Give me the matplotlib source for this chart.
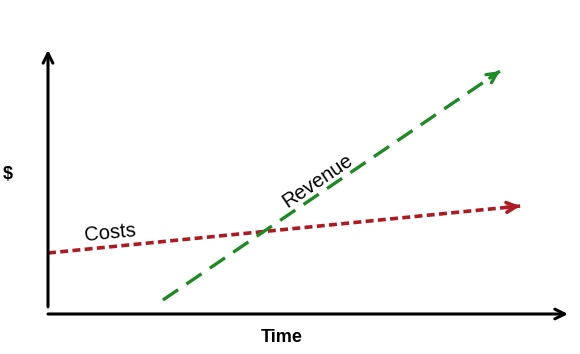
import matplotlib
matplotlib.use("Agg")
import matplotlib.pyplot as plt

plt.rcParams['font.family'] = ['Liberation Sans', 'DejaVu Sans']

# Data (arbitrary units on the Time / $ axes)
cost_time = [0.0, 9.08]
cost_values = [2.31, 4.09]
revenue_time = [2.21, 8.69]
revenue_values = [0.53, 9.2]
x_label = "Time"
y_label = "$"
cost_label = "Costs"
revenue_label = "Revenue"

W, H = 580, 354
fig = plt.figure(figsize=(W / 100, H / 100), dpi=100)
ax = fig.add_axes([48 / W, (H - 314) / H, 520 / W, 264 / H])
ax.set_xlim(0, 10)
ax.set_ylim(0, 10)
ax.axis('off')

red = '#ac1a22'
green = '#1e8a24'

# axes arrows
ax.annotate('', xy=(10, 0), xytext=(0, 0),
            arrowprops=dict(arrowstyle='->,head_length=0.7,head_width=0.35',
                            color='black', lw=2.2, shrinkA=0, shrinkB=0),
            annotation_clip=False)
ax.annotate('', xy=(0, 10), xytext=(0, 0.27),
            arrowprops=dict(arrowstyle='->,head_length=0.7,head_width=0.35',
                            color='black', lw=2.2, shrinkA=0, shrinkB=0),
            annotation_clip=False)


def dashed_arrow(xs, ys, color, dashes, lw):
    ax.plot(xs, ys, color=color, lw=lw, dashes=dashes,
            dash_capstyle='butt', clip_on=False)
    fx = xs[0] + (xs[1] - xs[0]) * 0.97
    fy = ys[0] + (ys[1] - ys[0]) * 0.97
    ax.annotate('', xy=(xs[1], ys[1]), xytext=(fx, fy),
                arrowprops=dict(arrowstyle='->,head_length=0.7,head_width=0.35',
                                color=color, lw=lw, shrinkA=0, shrinkB=0),
                annotation_clip=False)


dashed_arrow(cost_time, cost_values, red, (2.2, 1.2), 2.6)
dashed_arrow(revenue_time, revenue_values, green, (5.5, 3.0), 2.4)

ax.text(1.19, 3.07, cost_label, fontsize=14.5, rotation=5.5,
        ha='center', va='center', rotation_mode='anchor')
ax.text(5.19, 5.04, revenue_label, fontsize=14.5, rotation=34,
        ha='center', va='center', rotation_mode='anchor')

fig.text(282 / W, 1 - 337 / H, x_label, fontsize=13, fontweight='bold',
         ha='center', va='center')
fig.text(8 / W, 1 - 175 / H, y_label, fontsize=13, fontweight='bold',
         ha='center', va='center')

fig.savefig('out.png', dpi=100)
